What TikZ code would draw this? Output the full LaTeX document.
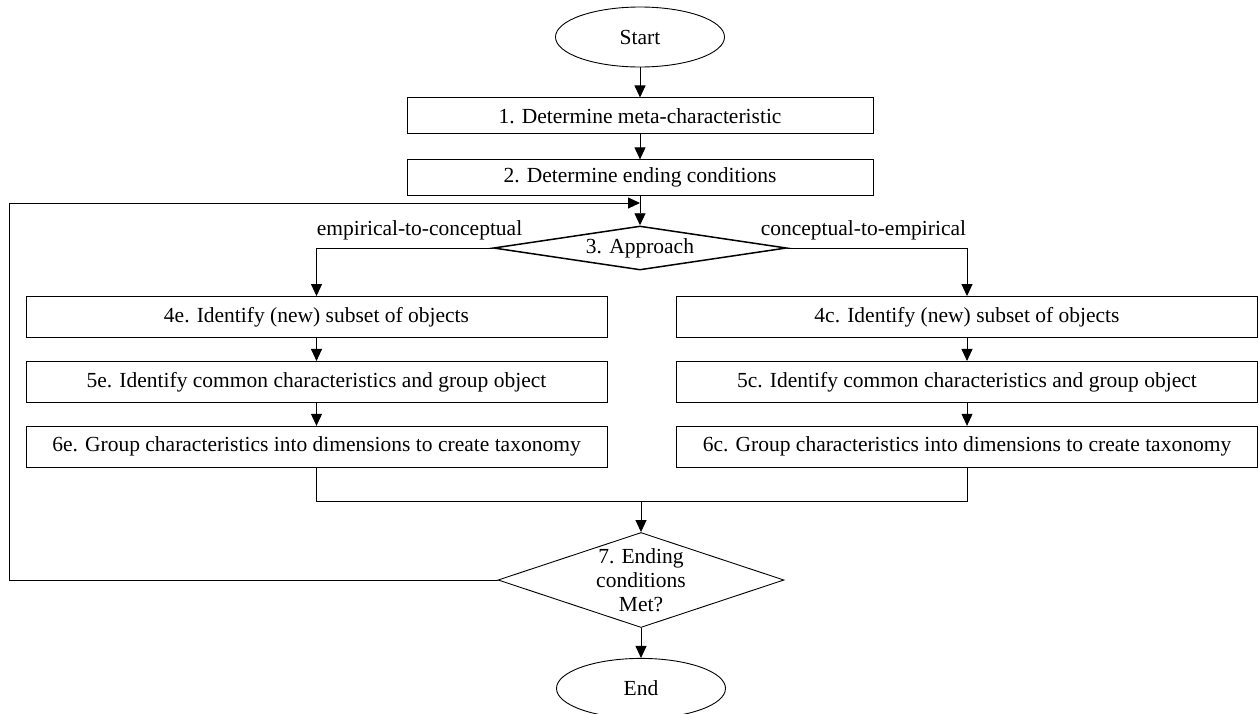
\documentclass[tikz,border=0pt]{standalone}
\usepackage{fontspec}
\setmainfont{Liberation Serif}
\usetikzlibrary{arrows.meta,positioning,shapes.geometric}

\begin{document}
\begin{tikzpicture}[x=1pt,y=-1pt,>={Triangle[length=12pt,width=11pt]},line width=0.9pt,
    font=\fontsize{21.5}{24}\selectfont,every node/.style={align=center},
    stepbox/.style={draw,inner sep=0pt,minimum width=466pt,minimum height=36pt},
    sidebox/.style={draw,inner sep=0pt,minimum width=581pt,minimum height=41pt},
    ovalbox/.style={draw,ellipse,inner sep=0pt,minimum width=169pt,minimum height=60pt},
    choice/.style={draw,diamond,inner sep=0pt}]
    \useasboundingbox (0,0) rectangle (1258,713);
    % main column
    \node[ovalbox] (start) at (640,37) {Start};
    \node[stepbox,below=30pt of start] (m1) {1. Determine meta-characteristic};
    \node[stepbox,below=25pt of m1] (m2) {2. Determine ending conditions};
    \node[choice,line width=1.5pt,minimum width=293pt,minimum height=44pt,aspect=6.6,below=29pt of m2] (appr) {3. Approach};
    % two branches
    \node[sidebox] (e4) at (316.5,317) {4e. Identify (new) subset of objects};
    \node[sidebox,below=23pt of e4] (e5) {5e. Identify common characteristics and group object};
    \node[sidebox,below=23pt of e5] (e6) {6e. Group characteristics into dimensions to create taxonomy};
    \node[sidebox] (c4) at (967,317) {4c. Identify (new) subset of objects};
    \node[sidebox,below=23pt of c4] (c5) {5c. Identify common characteristics and group object};
    \node[sidebox,below=23pt of c5] (c6) {6c. Group characteristics into dimensions to create taxonomy};
    \node[anchor=base east] (lble) at (526,235) {empirical-to-conceptual};
    \node[anchor=base west] (lblc) at (757,235) {conceptual-to-empirical};
    % check and end
    \node[choice,minimum width=286pt,minimum height=95pt,aspect=3] (chk) at (641,580) {7. Ending\\conditions\\Met?};
    \node[ovalbox,below=30pt of chk] (end) {End};
    \coordinate (jn) at (641,501);
    \coordinate (lpb) at (9,580);
    \coordinate (lpt) at (9,203);
    \coordinate (lpe) at (640,203);
    \draw[->] (start) -- (m1);
    \draw[->] (m1) -- (m2);
    \draw[->] (m2) -- (appr);
    \draw[->] (appr.west) -| (e4.north);
    \draw[->] (appr.east) -| (c4.north);
    \draw[->] (e4) -- (e5);
    \draw[->] (e5) -- (e6);
    \draw[->] (c4) -- (c5);
    \draw[->] (c5) -- (c6);
    \draw (e6) |- (jn) -| (c6);
    \draw[->] (jn) -- (chk);
    \draw[->] (chk) -- (end);
    \draw[->] (chk.west) -- (lpb) -- (lpt) -- (lpe);
\end{tikzpicture}
\end{document}
